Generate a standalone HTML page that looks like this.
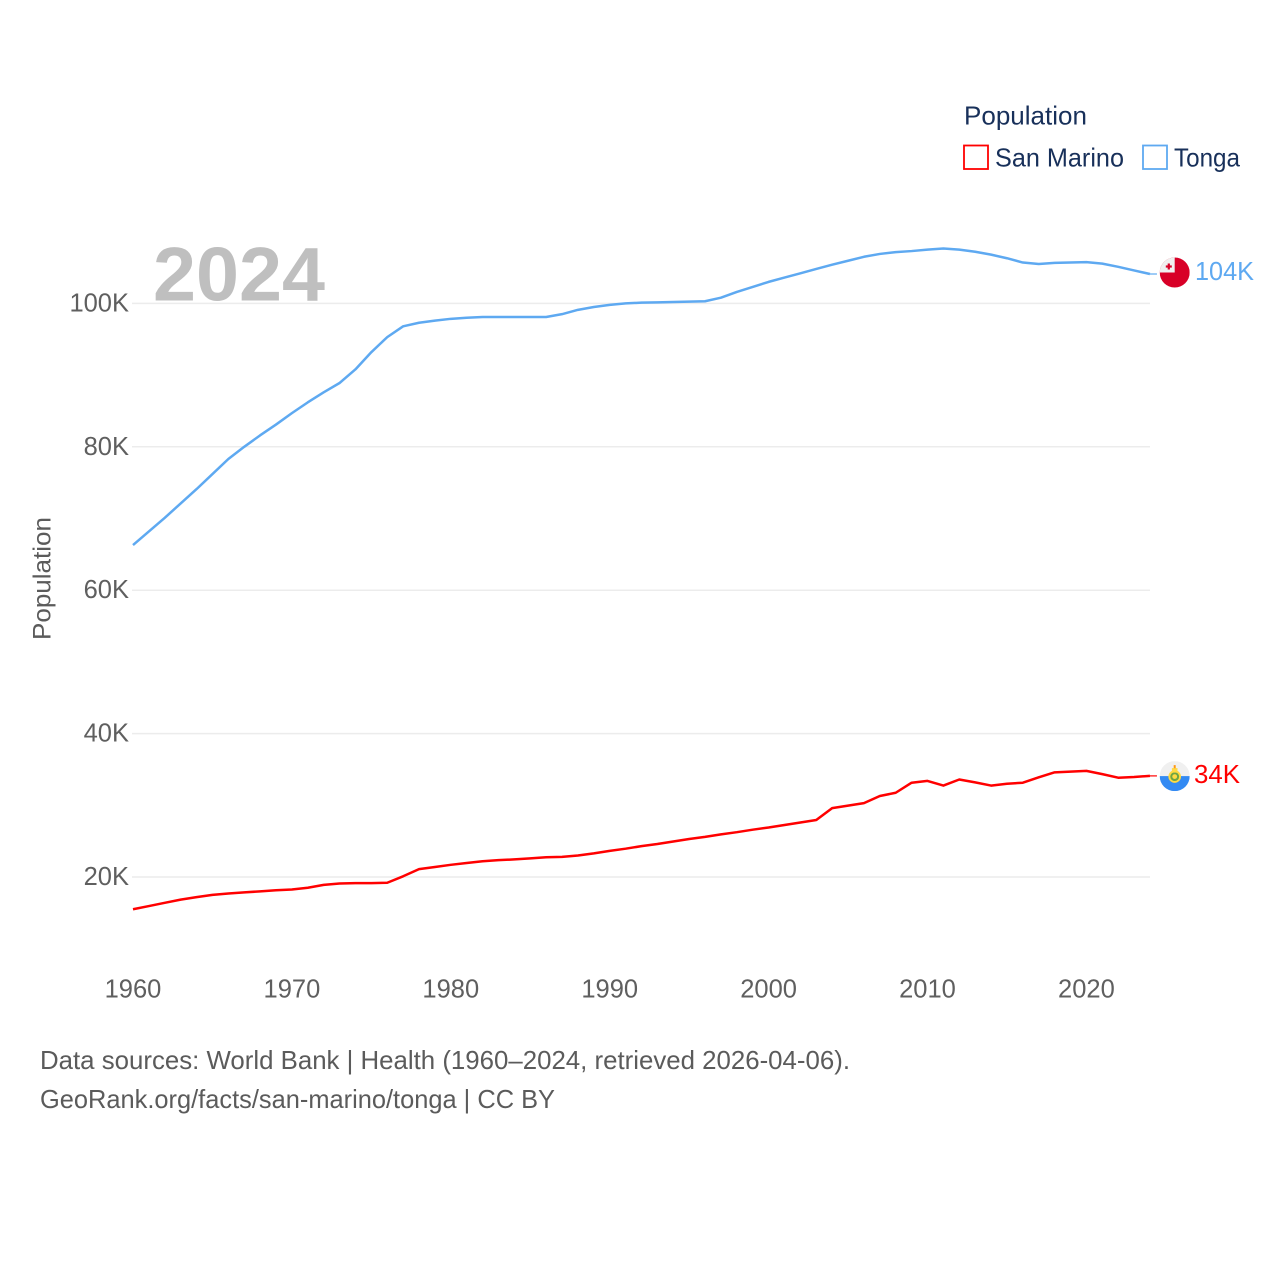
<!DOCTYPE html>
<html lang="en">
<head>
<meta charset="utf-8">
<title>Population: San Marino and Tonga</title>
<style>
html,body{margin:0;padding:0;background:#fff;}
svg{display:block;font-family:"Liberation Sans",sans-serif;}
</style>
</head>
<body>
<svg id="chart" xmlns="http://www.w3.org/2000/svg" width="1280" height="1280" viewBox="0 0 1280 1280">
  <rect width="1280" height="1280" fill="#fff"/>
  <g id="grid"></g>
  <text x="153" y="300.5" font-size="76" font-weight="700" fill="#bfbfbf" textLength="172" lengthAdjust="spacingAndGlyphs">2024</text>
  <g id="yticks"></g>
  <g id="xticks"></g>
  <text transform="translate(50.5,640) rotate(-90)" font-size="25" fill="#5b5b5b" textLength="123" lengthAdjust="spacingAndGlyphs">Population</text>
  <g id="series"></g>
  <g id="flags"></g>
  <g>
    <text x="964" y="124.5" font-size="26" fill="#18305a" textLength="123" lengthAdjust="spacingAndGlyphs">Population</text>
    <g>
      <rect x="964" y="145.5" width="24" height="23.5" fill="#fff" stroke="#ff0000" stroke-width="1.8"/>
      <text x="995" y="166.5" font-size="26" fill="#18305a" textLength="129" lengthAdjust="spacingAndGlyphs">San Marino</text>
    </g>
    <g>
      <rect x="1143" y="145.5" width="24" height="23.5" fill="#fff" stroke="#5ea9f1" stroke-width="1.8"/>
      <text x="1174" y="166.5" font-size="26" fill="#18305a" textLength="66" lengthAdjust="spacingAndGlyphs">Tonga</text>
    </g>
  </g>
  <text x="40" y="1069" font-size="26" fill="#5b5b5b" textLength="810" lengthAdjust="spacingAndGlyphs">Data sources: World Bank | Health (1960–2024, retrieved 2026-04-06).</text>
  <text x="40" y="1108" font-size="26" fill="#5b5b5b" textLength="515" lengthAdjust="spacingAndGlyphs">GeoRank.org/facts/san-marino/tonga | CC BY</text>
</svg>
<script>
const startYear = 1960;
const xTickYears = [1960, 1970, 1980, 1990, 2000, 2010, 2020];
const yTickValues = [20, 40, 60, 80, 100];
const yTickLabels = ['20K', '40K', '60K', '80K', '100K'];
const tongaValues = [66.3, 68.2, 70.1, 72.1, 74.1, 76.2, 78.3, 80.0, 81.6, 83.1,
  84.7, 86.2, 87.6, 88.9, 90.8, 93.2, 95.3, 96.8, 97.3, 97.6,
  97.85, 98.0, 98.1, 98.1, 98.1, 98.1, 98.1, 98.5, 99.1, 99.5,
  99.8, 100.0, 100.1, 100.15, 100.2, 100.25, 100.3, 100.8, 101.6, 102.3,
  103.0, 103.6, 104.2, 104.8, 105.4, 105.95, 106.5, 106.9, 107.15, 107.3,
  107.5, 107.65, 107.5, 107.2, 106.8, 106.3, 105.7, 105.5, 105.65, 105.7,
  105.75, 105.55, 105.1, 104.6, 104.1];
const sanMarinoValues = [15.5, 15.95, 16.4, 16.85, 17.2, 17.5, 17.7, 17.85, 18.0, 18.15,
  18.25, 18.5, 18.9, 19.1, 19.15, 19.15, 19.2, 20.1, 21.1, 21.4,
  21.7, 21.95, 22.2, 22.35, 22.45, 22.6, 22.75, 22.8, 23.0, 23.3,
  23.65, 23.95, 24.3, 24.6, 24.95, 25.3, 25.6, 25.95, 26.25, 26.6,
  26.9, 27.25, 27.6, 27.95, 29.6, 29.95, 30.3, 31.3, 31.75, 33.15,
  33.4, 32.75, 33.6, 33.2, 32.75, 33.0, 33.15, 33.9, 34.6, 34.7,
  34.8, 34.35, 33.85, 33.95, 34.1];
const endLabelTonga = '104K';
const endLabelSanMarino = '34K';

const SVG_NS = 'http://www.w3.org/2000/svg';
function xScale(year) { return 133 + (year - 1960) * 15.89; }
function yScale(value) { return 877 - (value - 20) * 7.17; }
function make(tag, parent, attrs, text) {
  const el = document.createElementNS(SVG_NS, tag);
  for (const k in attrs) el.setAttribute(k, attrs[k]);
  if (text !== undefined) el.textContent = text;
  parent.appendChild(el);
  return el;
}
const grid = document.getElementById('grid');
const yticks = document.getElementById('yticks');
const xticks = document.getElementById('xticks');
const seriesGroup = document.getElementById('series');
const flags = document.getElementById('flags');

yTickValues.forEach(function (v, i) {
  const line = make('line', grid, {x1: 132, x2: 1150, y1: yScale(v), y2: yScale(v), stroke: '#ececec', 'stroke-width': 1.5});
  
  
  const label = make('text', yticks, {x: 129, y: yScale(v) + 8, 'text-anchor': 'end', 'font-size': 25.5, fill: '#5f5f5f'}, yTickLabels[i]);
  
  
});

xTickYears.forEach(function (year) {
  const label = make('text', xticks, {x: xScale(year), y: 997.5, 'text-anchor': 'middle', 'font-size': 25.5, fill: '#5f5f5f'}, String(year));
  
  
});

function pathFor(values) {
  return values.map(function (v, i) {
    return (i ? 'L' : 'M') + xScale(startYear + i).toFixed(2) + ' ' + yScale(v).toFixed(2);
  }).join(' ');
}
function endPoint(values) {
  return {x: xScale(startYear + values.length - 1), y: yScale(values[values.length - 1])};
}

const tongaLine = make('path', seriesGroup, {d: pathFor(tongaValues), fill: 'none', stroke: '#5ea9f1', 'stroke-width': 2.5, 'stroke-linejoin': 'round'});


const sanMarinoLine = make('path', seriesGroup, {d: pathFor(sanMarinoValues), fill: 'none', stroke: '#ff0000', 'stroke-width': 2.5, 'stroke-linejoin': 'round'});



const tEnd = endPoint(tongaValues);
const sEnd = endPoint(sanMarinoValues);

const tConn = make('line', seriesGroup, {x1: tEnd.x, x2: tEnd.x + 7, y1: tEnd.y, y2: tEnd.y, stroke: '#5ea9f1', 'stroke-width': 1.2});


const sConn = make('line', seriesGroup, {x1: sEnd.x, x2: sEnd.x + 7, y1: sEnd.y, y2: sEnd.y, stroke: '#ff0000', 'stroke-width': 1.2});



const clipDefs = make('defs', flags, {});
const clip = make('clipPath', clipDefs, {id: 'flag-clip'});
make('circle', clip, {cx: 0, cy: 0, r: 15});

const tFlag = make('g', flags, {transform: 'translate(1174.7,' + (tEnd.y - 1.5) + ')'});


const tFlagInner = make('g', tFlag, {'clip-path': 'url(#flag-clip)'});
make('rect', tFlagInner, {x: -15, y: -15, width: 30, height: 30, fill: '#d80027'});
make('rect', tFlagInner, {x: -15, y: -15, width: 15, height: 15, fill: '#f0f0f0'});
make('rect', tFlagInner, {x: -7, y: -9, width: 2.2, height: 6, fill: '#d80027'});
make('rect', tFlagInner, {x: -8.9, y: -7.1, width: 6, height: 2.2, fill: '#d80027'});

const sFlag = make('g', flags, {transform: 'translate(1174.7,' + (sEnd.y + 0.2) + ')'});


const sFlagInner = make('g', sFlag, {'clip-path': 'url(#flag-clip)'});
make('rect', sFlagInner, {x: -15, y: -15, width: 30, height: 30, fill: '#f0f0f0'});
make('rect', sFlagInner, {x: -15, y: 0, width: 30, height: 15, fill: '#338af3'});
make('circle', sFlagInner, {cx: 0, cy: 0.5, r: 6.3, fill: '#ffda44'});
make('circle', sFlagInner, {cx: 0, cy: 0.5, r: 4.4, fill: '#6da544'});
make('circle', sFlagInner, {cx: 0, cy: 0.5, r: 2.4, fill: '#ffda44'});
make('rect', sFlagInner, {x: -2.8, y: -8, width: 5.6, height: 4.5, fill: '#ffda44'});
make('rect', sFlagInner, {x: -1, y: -11, width: 2, height: 3.2, fill: '#ff9811'});

const tLabel = make('text', flags, {x: 1195, y: tEnd.y + 6, 'font-size': 25.5, fill: '#5ea9f1', textLength: 59, lengthAdjust: 'spacingAndGlyphs'}, endLabelTonga);


const sLabel = make('text', flags, {x: 1194, y: sEnd.y + 7, 'font-size': 25.5, fill: '#ff0000', textLength: 46, lengthAdjust: 'spacingAndGlyphs'}, endLabelSanMarino);


</script>
</body>
</html>
